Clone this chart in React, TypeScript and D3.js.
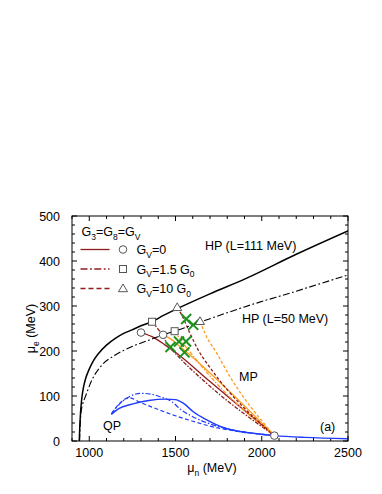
import React from 'react';
import * as d3 from 'd3';

// HP branches (mu_n, mu_e)
const hpL111 = [[942,0],[945,30],[949,60],[956,92],[966,118],[980,140],[998,158],[1022,177],[1055,195],[1100,213],[1151,228],[1200,239],[1248,247],[1300,256],[1364,265],[1430,279],[1510,294],[1700,327],[1913,362],[2200,415],[2500,467]];
const hpL50 = [[944,0],[947,35],[952,62],[962,82],[977,98],[1016,136],[1074,169],[1151,191],[1248,210],[1345,224],[1428,236],[1495,244],[1642,264],[1900,298],[2200,333],[2500,369]];

// QP branches
const qpSolid = [[1128,59],[1171,72],[1248,82],[1345,90],[1441,93],[1500,92],[1545,84],[1603,65],[1681,47],[1777,30],[1874,21],[1971,16],[2073,12],[2250,8],[2500,5]];
const qpDashDot = [[1128,60],[1170,80],[1230,98],[1300,106],[1360,104],[1420,97],[1480,87],[1530,70],[1600,54],[1700,38],[1850,23],[2000,15],[2073,12]];
const qpDashed = [[1128,60],[1180,85],[1230,96],[1300,85],[1400,70],[1500,56],[1600,44],[1700,33],[1850,22],[2000,15],[2073,12]];

// MP branches
const mpRedSolid = [[1300,241],[1364,232],[1441,213],[1507,195],[1700,132],[1900,68],[2073,12]];
const mpRedDashDot = [[1364,265],[1410,243],[1458,213],[1526,184],[1681,128],[2073,12]];
const mpRedDashed = [[1510,296],[1536,280],[1584,239],[1632,202],[1710,158],[2073,12]];
const mpOrangeSolid = [[1428,236],[1468,228],[1526,210],[2073,12]];
const mpOrangeDashDot = [[1495,244],[1545,217],[1613,184],[1719,136],[2073,12]];
const mpOrangeDashed = [[1642,266],[1671,239],[1739,195],[1816,143],[2073,12]];

const circles = [[1300,241],[1428,236]];
const squares = [[1364,265],[1495,244]];
const triangles = [[1510,297],[1642,266]];
const endPoint = [2073,12];
const crosses = [[1562,271],[1603,258],[1471,209],[1520,221],[1561,221],[1552,197]];

const xMajor = [1000,1500,2000,2500];
const yMajor = [0,100,200,300,400,500];

const RED = '#8e1c1c';
const ORANGE = '#ff9a1f';
const BLUE = '#1f3cff';
const GREEN = '#1d931d';
const DASHDOT = '7,2.5,1.8,2.5';
const DASHED = '5,3';
const FONT = 'Liberation Sans, Arial, sans-serif';

export default function App() {
  const margin = { left: 72, right: 34, top: 216, bottom: 53 };
  const W = 382, H = 494;
  const x = d3.scaleLinear().domain([900, 2500]).range([margin.left, W - margin.right]);
  const y = d3.scaleLinear().domain([0, 500]).range([H - margin.bottom, margin.top]);
  const line = d3.line<number[]>().x(d => x(d[0])).y(d => y(d[1])).curve(d3.curveMonotoneX);
  const [x0, x1] = x.range();
  const [y0, y1] = y.range();

  const xMinor = d3.range(900, 2501, 100);
  const yMinor = d3.range(0, 501, 20);

  const sub = (main: string, s: string, rest?: string) => (
    <>
      {main}<tspan dy={3.5} fontSize={8.5}>{s}</tspan>
      {rest !== undefined && <tspan dy={-3.5}>{rest}</tspan>}
    </>
  );

  const mpLines: [number[][], string, string | undefined][] = [
    [mpRedSolid, RED, undefined],
    [mpOrangeSolid, ORANGE, undefined],
    [mpRedDashDot, RED, '4,1.5,1.5,1.5'],
    [mpOrangeDashDot, ORANGE, '4,1.5,1.5,1.5'],
    [mpRedDashed, RED, '3,2'],
    [mpOrangeDashed, ORANGE, '3,2'],
  ];

  const marker = (kind: string, cx: number, cy: number, key: string) => {
    if (kind === 'c') return <circle key={key} cx={cx} cy={cy} r={3.8} fill="#fff" stroke="#555" strokeWidth={1} />;
    if (kind === 's') return <rect key={key} x={cx - 3.5} y={cy - 3.5} width={7} height={7} fill="#fff" stroke="#555" strokeWidth={1} />;
    return <path key={key} d={`M${cx},${cy - 4.5}L${cx + 4.5},${cy + 3.2}L${cx - 4.5},${cy + 3.2}Z`} fill="#fff" stroke="#555" strokeWidth={1} />;
  };

  const legendRows = [
    { dash: undefined, kind: 'c', label: sub('G', 'V', '=0'), yy: 249.5 },
    { dash: DASHDOT, kind: 's', label: <>{sub('G', 'V', '=1.5 G')}<tspan dy={3.5} fontSize={8.5}>0</tspan></>, yy: 269 },
    { dash: DASHED, kind: 't', label: <>{sub('G', 'V', '=10 G')}<tspan dy={3.5} fontSize={8.5}>0</tspan></>, yy: 288.5 },
  ];

  return (
    <div style={{ position: 'absolute', left: 0, top: 0 }}>
      <svg width={W} height={H} style={{ display: 'block', background: '#fff' }} fontFamily={FONT}>
        <defs>
          <clipPath id="plot">
            <rect x={x0} y={y1} width={x1 - x0} height={y0 - y1} />
          </clipPath>
        </defs>

        {/* ticks, inward on all sides */}
        {xMinor.map(v => {
          const len = xMajor.includes(v) ? 5 : 3;
          return (
            <g key={'xt' + v} stroke="#000" strokeWidth={1}>
              <line x1={x(v)} x2={x(v)} y1={y0} y2={y0 - len} />
              <line x1={x(v)} x2={x(v)} y1={y1} y2={y1 + len} />
            </g>
          );
        })}
        {yMinor.map(v => {
          const len = yMajor.includes(v) ? 5 : 3;
          return (
            <g key={'yt' + v} stroke="#000" strokeWidth={1}>
              <line x1={x0} x2={x0 + len} y1={y(v)} y2={y(v)} />
              <line x1={x1} x2={x1 - len} y1={y(v)} y2={y(v)} />
            </g>
          );
        })}
        {xMajor.map(v => (
          <text key={'xl' + v} x={x(v)} y={457} fontSize={12.5} textAnchor="middle">{v}</text>
        ))}
        {yMajor.map(v => (
          <text key={'yl' + v} x={60} y={y(v) + 4.5} fontSize={12.5} textAnchor="end">{v}</text>
        ))}

        <text x={212} y={472} fontSize={12.5} textAnchor="middle">
          {sub('μ', 'n', ' (MeV)')}
        </text>
        <text transform={`translate(35,${(y0 + y1) / 2}) rotate(-90)`} fontSize={12.5} textAnchor="middle">
          {sub('μ', 'e', ' (MeV)')}
        </text>

        <g clipPath="url(#plot)" fill="none">
          {/* QP */}
          <path d={line(qpSolid) ?? ''} stroke={BLUE} strokeWidth={1.4} />
          <path d={line(qpDashDot) ?? ''} stroke={BLUE} strokeWidth={1.2} strokeDasharray="5,2,1.5,2" />
          <path d={line(qpDashed) ?? ''} stroke={BLUE} strokeWidth={1.2} strokeDasharray="4,2.5" />

          {/* MP */}
          {mpLines.map(([pts, c, dash], i) => (
            <path key={'mp' + i} d={line(pts) ?? ''} stroke={c} strokeWidth={1.3} strokeDasharray={dash} />
          ))}

          {/* HP */}
          <path d={line(hpL111) ?? ''} stroke="#000" strokeWidth={1.5} />
          <path d={line(hpL50) ?? ''} stroke="#000" strokeWidth={1.1} strokeDasharray={DASHDOT} />
        </g>

        {crosses.map((d, i) => (
          <g key={'x' + i} stroke={GREEN} strokeWidth={2}>
            <line x1={x(d[0]) - 5} x2={x(d[0]) + 5} y1={y(d[1]) - 5} y2={y(d[1]) + 5} />
            <line x1={x(d[0]) - 5} x2={x(d[0]) + 5} y1={y(d[1]) + 5} y2={y(d[1]) - 5} />
          </g>
        ))}

        {circles.map((d, i) => marker('c', x(d[0]), y(d[1]), 'c' + i))}
        {squares.map((d, i) => marker('s', x(d[0]), y(d[1]), 's' + i))}
        {triangles.map((d, i) => marker('t', x(d[0]), y(d[1]), 't' + i))}
        {marker('c', x(endPoint[0]), y(endPoint[1]), 'end')}

        <rect x={x0} y={y1} width={x1 - x0} height={y0 - y1} fill="none" stroke="#000" strokeWidth={1} />

        {/* legend */}
        <text x={81.5} y={236} fontSize={12.5}>
          G<tspan dy={3.5} fontSize={8.5}>3</tspan><tspan dy={-3.5}>=G</tspan><tspan dy={3.5} fontSize={8.5}>8</tspan><tspan dy={-3.5}>=G</tspan><tspan dy={3.5} fontSize={8.5}>V</tspan>
        </text>
        {legendRows.map((r, i) => (
          <g key={'lg' + i}>
            <line x1={80.5} x2={109.5} y1={r.yy} y2={r.yy} stroke={RED} strokeWidth={1.3} strokeDasharray={r.dash} />
            {marker(r.kind, 123, r.yy, 'lm' + i)}
            <text x={136.5} y={r.yy + 4.5} fontSize={12.5}>{r.label}</text>
          </g>
        ))}

        <text x={205} y={250} fontSize={12.5}>HP (L=111 MeV)</text>
        <text x={242} y={323} fontSize={12.5}>HP (L=50 MeV)</text>
        <text x={239} y={381} fontSize={12.5}>MP</text>
        <text x={103} y={430} fontSize={12.5}>QP</text>
        <text x={320} y={431} fontSize={12.5}>(a)</text>
      </svg>
    </div>
  );
}
